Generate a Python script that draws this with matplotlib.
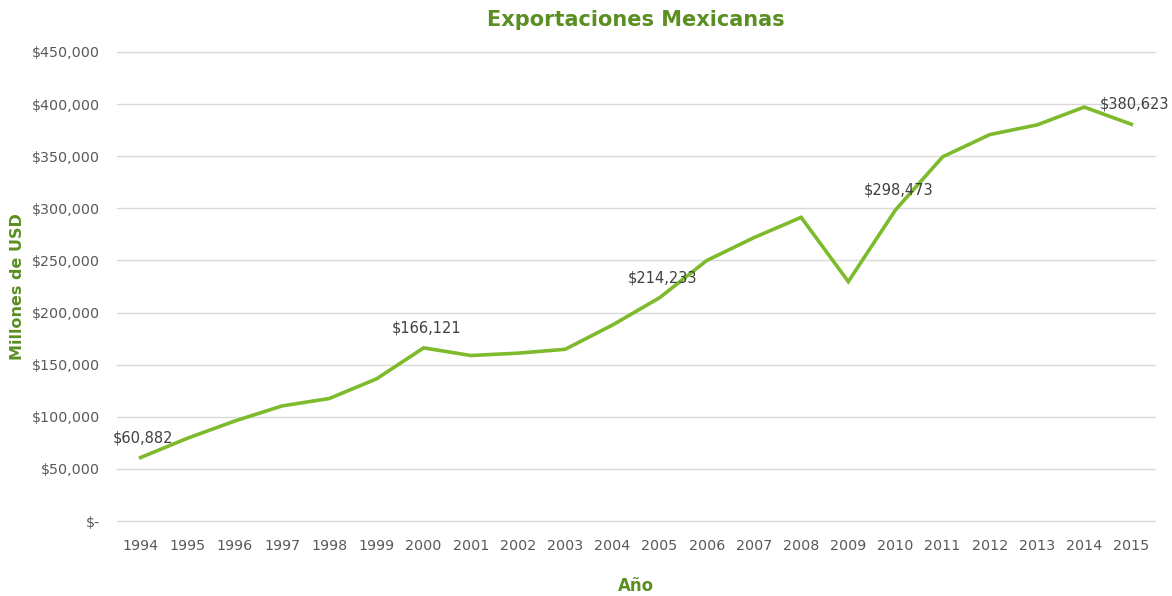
import matplotlib.pyplot as plt
import matplotlib.ticker as mticker

years = ['1994', '1995', '1996', '1997', '1998', '1999', '2000', '2001', '2002', '2003', '2004',
         '2005', '2006', '2007', '2008', '2009', '2010', '2011', '2012', '2013', '2014', '2015']
exports = [60882, 79542, 95999, 110431, 117539, 136361, 166121, 158780, 161046, 164766, 187999,
           214233, 249925, 271875, 291343, 229704, 298473, 349433, 370770, 380015, 397129, 380623]
labeled_years = ['1994', '2000', '2005', '2010', '2015']

green_dark = '#5b8f22'
green_line = '#7dbb2c'

fig = plt.figure(figsize=(11.72, 5.96), dpi=100)
ax = fig.add_axes([0.0998, 0.1258, 0.8857, 0.787])

x = list(range(len(years)))
ax.plot(x, exports, color=green_line, linewidth=2.6, solid_joinstyle='miter')

# data labels on a few points
for i, (yr, val) in enumerate(zip(years, exports)):
    if yr in labeled_years:
        ax.annotate('${:,}'.format(val), (i, val), xytext=(2, 9), textcoords='offset points',
                    ha='center', va='bottom', fontsize=10.5, color='#404040')

ax.set_xlim(-0.5, len(years) - 0.5)
ax.set_ylim(0, 450000)
ax.set_yticks(range(0, 450001, 50000))
ax.yaxis.set_major_formatter(mticker.FuncFormatter(lambda v, p: '$-' if v == 0 else '${:,.0f}'.format(v)))
ax.set_xticks(x)
ax.set_xticklabels(years)

ax.grid(axis='y', color='#d9d9d9', linewidth=1)
for gl in ax.get_ygridlines():
    gl.set_clip_on(False)
ax.set_axisbelow(True)
for s in ax.spines.values():
    s.set_visible(False)
ax.tick_params(length=0, labelsize=10.3, colors='#595959')
ax.tick_params(axis='y', pad=12)
ax.tick_params(axis='x', pad=13)

ax.set_title('Exportaciones Mexicanas', fontsize=15, fontweight='bold', color=green_dark, pad=19)
ax.set_ylabel('Millones de USD', fontsize=11.5, fontweight='bold', color=green_dark, labelpad=5)
ax.set_xlabel('Año', fontsize=12, fontweight='bold', color=green_dark, labelpad=17)

fig.savefig('out.png', dpi=100)
